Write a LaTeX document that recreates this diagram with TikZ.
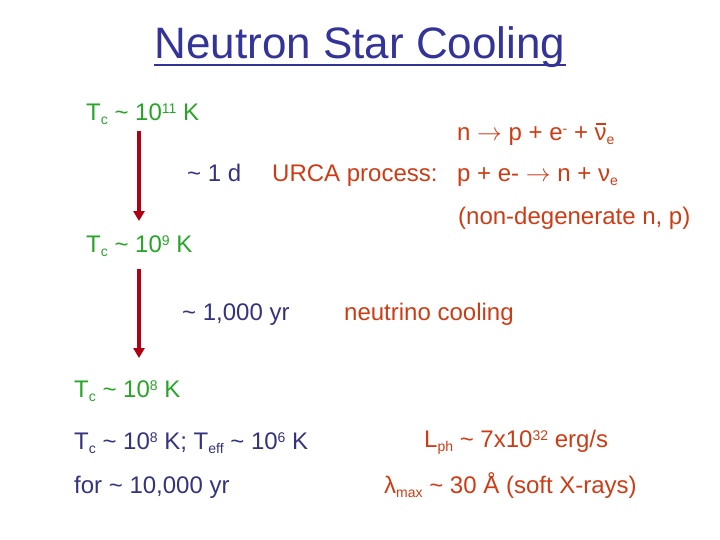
\documentclass[tikz,border=0pt]{standalone}
\usepackage{fontspec}
\setmainfont{Liberation Sans}
\usetikzlibrary{arrows.meta, positioning}

\definecolor{titleblue}{RGB}{51,51,153}
\definecolor{tempgreen}{RGB}{40,165,40}
\definecolor{timeblue}{RGB}{51,51,128}
\definecolor{procred}{RGB}{205,60,20}
\definecolor{arrowred}{RGB}{176,0,20}

\newcommand{\up}[1]{\raisebox{7bp}{\fontsize{14bp}{14bp}\selectfont #1}}
\newcommand{\dn}[1]{\raisebox{-4bp}{\fontsize{14bp}{14bp}\selectfont #1}}
\newcommand{\nubar}{\ooalign{ν\cr\hidewidth\rule[0.68em]{0.42em}{0.07em}\hidewidth\cr}}
\newcommand{\yields}{$\rightarrow$}

\begin{document}
\begin{tikzpicture}[
    x=1bp, y=-1bp,
    txt/.style={anchor=base west, inner sep=0pt, font=\fontsize{24bp}{28bp}\selectfont},
    temp/.style={txt, text=tempgreen},
    span/.style={txt, text=timeblue},
    proc/.style={txt, text=procred},
    coolarrow/.style={-{Triangle[width=11bp,length=10bp]}, line width=4bp, arrowred}
]
    \useasboundingbox (0,0) rectangle (720,540);

    % Title
    \node[anchor=base, inner sep=0pt, font=\fontsize{44bp}{48bp}\selectfont, text=titleblue] (title) at (360,59) {Neutron Star Cooling};
    \draw[titleblue, line width=2.2bp] ([yshift=-6bp]title.base west) -- ([yshift=-6bp]title.base east);

    % Temperature stages
    \node[temp] (t11) at (86,121) {T\dn{c} \textasciitilde{} 10\up{11} K};
    \node[temp] (t9) at (86,253) {T\dn{c} \textasciitilde{} 10\up{9} K};
    \node[temp] (t8) at (74,397) {T\dn{c} \textasciitilde{} 10\up{8} K};

    % Time spans
    \node[span] (oneday) at (187,182) {\textasciitilde{} 1 d};
    \node[span] (kyr) at (182,320) {\textasciitilde{} 1,000 yr};
    \node[span] (teff) at (74,449) {T\dn{c} \textasciitilde{} 10\up{8} K; T\dn{eff} \textasciitilde{} 10\up{6} K};
    \node[span] (tenkyr) at (74,493) {for \textasciitilde{} 10,000 yr};

    % Processes
    \node[proc] (beta) at (457,141) {n \yields{} p + e\up{-} + \nubar\dn{e}};
    \node[proc] (urca) at (272,182) {URCA process:};
    \node[proc] (capture) at (457,182) {p + e- \yields{} n + ν\dn{e}};
    \node[proc] (nondeg) at (458,225) {(non-degenerate n, p)};
    \node[proc] (nucool) at (344,320) {neutrino cooling};
    \node[proc] (lph) at (424,447) {L\dn{ph} \textasciitilde{} 7x10\up{32} erg/s};
    \node[proc] (lmax) at (384,493) {λ\dn{max} \textasciitilde{} 30 Å (soft X-rays)};

    % Cooling arrows
    \coordinate (axis) at (139,0);
    \draw[coolarrow, shorten <=6bp, shorten >=15bp] (axis |- t11.south) -- (axis |- t9.north);
    \draw[coolarrow, shorten <=12bp, shorten >=22bp] (axis |- t9.south) -- (axis |- t8.north);
\end{tikzpicture}
\end{document}
